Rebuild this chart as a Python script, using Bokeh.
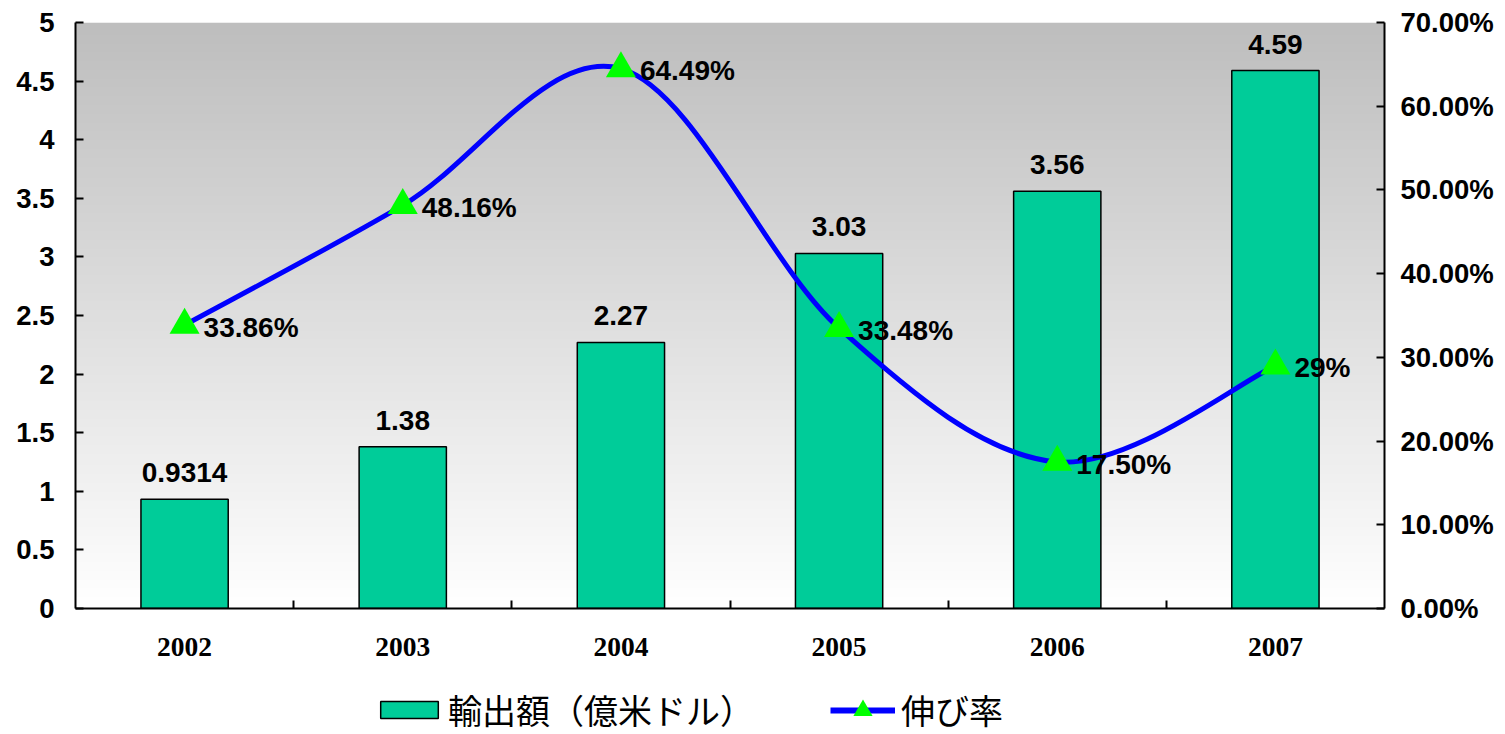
import numpy as np
from bokeh.plotting import figure
from bokeh.layouts import column
from bokeh.models import (Range1d, LinearAxis, FixedTicker, NumeralTickFormatter,
                          Legend, LegendItem, ColumnDataSource)
from bokeh.core.properties import value
from bokeh.embed import file_html
from bokeh.resources import INLINE

years = ["2002", "2003", "2004", "2005", "2006", "2007"]
exports = [0.9314, 1.38, 2.27, 3.03, 3.56, 4.59]
export_labels = ["0.9314", "1.38", "2.27", "3.03", "3.56", "4.59"]
growth = [0.3386, 0.4816, 0.6449, 0.3348, 0.1750, 0.29]
growth_labels = ["33.86%", "48.16%", "64.49%", "33.48%", "17.50%", "29%"]
left_ticks = [0, 0.5, 1, 1.5, 2, 2.5, 3, 3.5, 4, 4.5, 5]
right_ticks = [0, 0.1, 0.2, 0.3, 0.4, 0.5, 0.6, 0.7]
bar_name = "輸出額（億米ドル）"
line_name = "伸び率"

BAR_COLOR = "#00CC99"
LINE_COLOR = "#0000FF"
MARK_COLOR = "#00FF00"

idx = list(range(len(years)))
n = len(idx)

p = figure(width=1505, height=680, output_backend="svg", toolbar_location=None,
           x_range=Range1d(-0.5, n - 0.5), y_range=Range1d(0, 5),
           min_border_left=75, min_border_right=121, min_border_top=22,
           min_border_bottom=72)
p.extra_y_ranges = {"right": Range1d(0, 0.7)}
p.background_fill_color = "white"
p.border_fill_color = "white"
p.outline_line_color = None
p.grid.visible = False

# gradient background (grey at top to white at bottom)
rows = 200
g = np.linspace(255, 190, rows).astype(np.uint8)
img = np.zeros((rows, 1), dtype=np.uint32)
view = img.view(dtype=np.uint8).reshape((rows, 1, 4))
view[:, 0, 0] = g
view[:, 0, 1] = g
view[:, 0, 2] = g
view[:, 0, 3] = 255
p.image_rgba(image=[img], x=-0.5, y=0, dw=n, dh=5, level="image")

src = ColumnDataSource(dict(x=idx, exports=exports, elab=export_labels,
                            growth=growth, glab=growth_labels))

bars = p.vbar(x="x", top="exports", width=0.4, source=src,
              fill_color=BAR_COLOR, line_color="black", line_width=1.5)

# smoothed curve (Excel-style bezier through the points)
x0s, y0s, x1s, y1s, cx0s, cy0s, cx1s, cy1s = [], [], [], [], [], [], [], []
for i in range(n - 1):
    a = i - 1 if i > 0 else i
    b = i + 2 if i + 2 < n else i + 1
    x0s.append(idx[i]); y0s.append(growth[i])
    x1s.append(idx[i + 1]); y1s.append(growth[i + 1])
    cx0s.append(idx[i] + (idx[i + 1] - idx[a]) / 6)
    cy0s.append(growth[i] + (growth[i + 1] - growth[a]) / 6)
    cx1s.append(idx[i + 1] - (idx[b] - idx[i]) / 6)
    cy1s.append(growth[i + 1] - (growth[b] - growth[i]) / 6)
curve = p.bezier(x0=x0s, y0=y0s, x1=x1s, y1=y1s, cx0=cx0s, cy0=cy0s,
                 cx1=cx1s, cy1=cy1s, line_color=LINE_COLOR, line_width=5,
                 y_range_name="right")
markers = p.scatter(x="x", y="growth", source=src, marker="triangle", size=30,
                    fill_color=MARK_COLOR, line_color=MARK_COLOR, line_width=0,
                    y_range_name="right")

FONT = value("Liberation Sans")
p.text(x="x", y="exports", text="elab", source=src, text_align="center",
       text_baseline="bottom", y_offset=-17, text_font_size="28px",
       text_font_style="bold", text_font=FONT, text_color="black")
p.text(x="x", y="growth", text="glab", source=src, text_align="left",
       text_baseline="middle", x_offset=19, y_offset=2, text_font_size="28px",
       text_font_style="bold", text_font=FONT, text_color="black",
       y_range_name="right")


def style_y(ax, standoff):
    ax.major_tick_in = 8
    ax.major_tick_out = 0
    ax.minor_tick_in = 0
    ax.minor_tick_out = 0
    ax.axis_line_width = 2
    ax.major_tick_line_width = 2
    ax.axis_line_color = "black"
    ax.major_tick_line_color = "black"
    ax.major_label_text_color = "black"
    ax.major_label_text_font = "Liberation Sans"
    ax.major_label_text_font_style = "bold"
    ax.major_label_text_font_size = "27.5px"
    ax.major_label_standoff = standoff


ya = p.yaxis[0]
ya.ticker = FixedTicker(ticks=left_ticks)
ya.formatter = NumeralTickFormatter(format="0.[0]")
style_y(ya, 21)

ra = LinearAxis(y_range_name="right", ticker=FixedTicker(ticks=right_ticks),
                formatter=NumeralTickFormatter(format="0.00%"))
style_y(ra, 16)
p.add_layout(ra, "right")

xa = p.xaxis[0]
xa.ticker = FixedTicker(ticks=idx, minor_ticks=[i + 0.5 for i in idx[:-1]])
xa.major_label_overrides = {i: y for i, y in zip(idx, years)}
xa.major_tick_in = 0
xa.major_tick_out = 0
xa.minor_tick_in = 8
xa.minor_tick_out = 0
xa.minor_tick_line_width = 2
xa.minor_tick_line_color = "black"
xa.axis_line_width = 2
xa.axis_line_color = "black"
xa.major_label_text_color = "black"
xa.major_label_text_font = "Liberation Serif"
xa.major_label_text_font_style = "bold"
xa.major_label_text_font_size = "27.5px"
xa.major_label_standoff = 29

# legend strip below the chart (hidden copies of the series supply the keys)
q = figure(width=1505, height=54, output_backend="svg", toolbar_location=None,
           x_range=Range1d(-0.5, n - 0.5), y_range=Range1d(0, 5),
           x_axis_location=None, y_axis_location=None,
           min_border_left=0, min_border_right=0, min_border_top=0,
           min_border_bottom=0)
q.outline_line_color = None
q.grid.visible = False
q.background_fill_color = "white"
q.border_fill_color = "white"
lb = q.vbar(x="x", top="exports", width=0.4, source=src, visible=False,
            fill_color=BAR_COLOR, line_color="black", line_width=1.5)
ll = q.line(x="x", y="growth", source=src, visible=False,
            line_color=LINE_COLOR, line_width=6)
lm = q.scatter(x="x", y="growth", source=src, marker="triangle", visible=False,
               fill_color=MARK_COLOR, line_color=MARK_COLOR, line_width=0)

common = dict(orientation="horizontal", label_text_font="Noto Sans CJK JP",
              label_text_font_size="34px", label_text_color="black",
              padding=0, margin=0, border_line_color=None,
              background_fill_alpha=0, inactive_fill_alpha=0)
leg1 = Legend(items=[LegendItem(label=bar_name, renderers=[lb])],
              location=(298, 0), glyph_width=72, glyph_height=21,
              label_standoff=3, **common)
leg2 = Legend(items=[LegendItem(label=line_name, renderers=[ll, lm])],
              location=(755, 0), glyph_width=65, glyph_height=48,
              label_standoff=6, **common)
q.add_layout(leg1, "center")
q.add_layout(leg2, "center")

layout = column(p, q, spacing=0)
open("out.html", "w").write(file_html(layout, INLINE))
